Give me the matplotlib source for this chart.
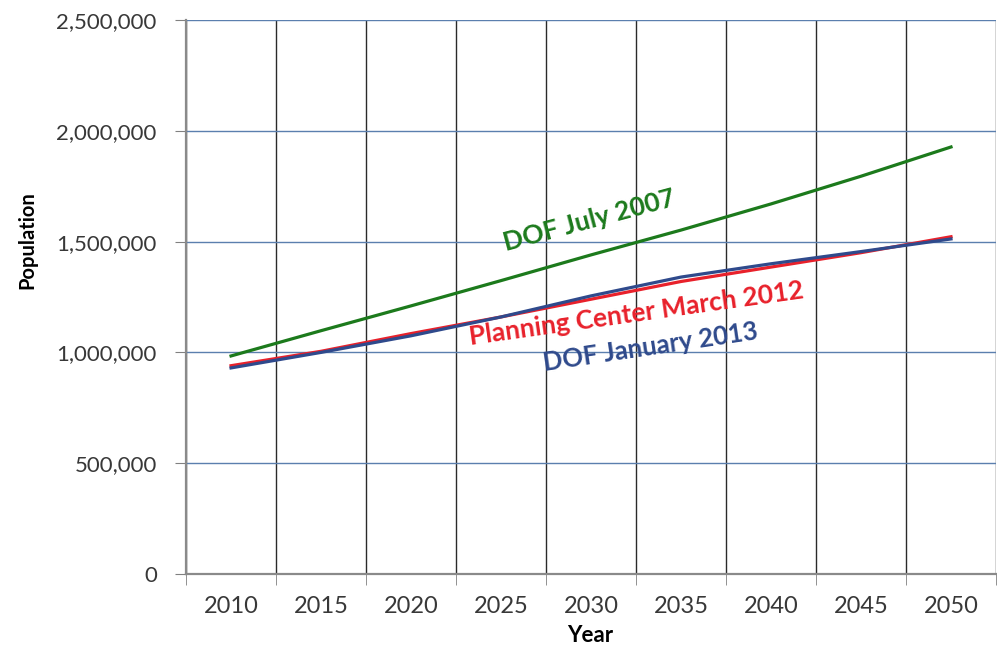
import matplotlib.pyplot as plt
from matplotlib.ticker import FuncFormatter, FixedLocator

years = ['2010', '2015', '2020', '2025', '2030', '2035', '2040', '2045', '2050']
# population projections
dof_2007 = [984000, 1098000, 1210000, 1324000, 1440000, 1552000, 1670000, 1795000, 1927000]
planning_2012 = [940000, 1005000, 1085000, 1160000, 1240000, 1320000, 1385000, 1450000, 1522000]
dof_2013 = [930000, 1000000, 1075000, 1160000, 1255000, 1340000, 1400000, 1455000, 1512000]

green = '#1c7a1c'
red = '#e8212b'
blue = '#2f4a8c'

plt.rcParams['font.family'] = ['Lato', 'DejaVu Sans']

fig = plt.figure(figsize=(9.97, 6.47), dpi=100)
ax = fig.add_axes([0.1866, 0.1128, 0.8124, 0.8563])

x = list(range(len(years)))
ax.plot(x, planning_2012, color=red, lw=2.3, zorder=3)
ax.plot(x, dof_2013, color=blue, lw=2.3, zorder=4)
ax.plot(x, dof_2007, color=green, lw=2.3, zorder=3)

ax.set_xlim(-0.5, 8.5)
ax.set_ylim(0, 2500000)
ax.set_yticks(range(0, 2500001, 500000))
ax.yaxis.set_major_formatter(FuncFormatter(lambda v, p: f'{int(v):,}'))
ax.set_xticks(x)
ax.set_xticklabels(years)
ax.xaxis.set_minor_locator(FixedLocator([i - 0.5 for i in range(10)]))

ax.grid(axis='y', color='#5b7fae', lw=1.0, zorder=1)
ax.grid(axis='x', which='minor', color='#2a2a2a', lw=1.0, zorder=1)
ax.tick_params(axis='x', which='major', length=0, pad=16, labelsize=17, labelcolor='#383838')
ax.tick_params(axis='x', which='minor', length=8, color='#808080', direction='out')
ax.tick_params(axis='y', length=8, color='#808080', pad=13, labelsize=16, labelcolor='#383838')

for side in ['top', 'right']:
    ax.spines[side].set_visible(False)
for side in ['left', 'bottom']:
    ax.spines[side].set_color('#8a8a8a')
    ax.spines[side].set_linewidth(1.6)

fig.text(590 / 997, 1 - 636 / 647, 'Year', fontsize=16, fontweight='bold',
         ha='center', va='center')
fig.text(27 / 997, 1 - 240 / 647, 'Population', fontsize=14.5, fontweight='bold',
         rotation=90, ha='center', va='center')

ax.text(3.98, 1597000, 'DOF July 2007', color=green, fontsize=19, fontweight='bold',
        rotation=15, rotation_mode='anchor', ha='center', va='center')
ax.text(4.5, 1173000, 'Planning Center March 2012', color=red, fontsize=19, fontweight='bold',
        rotation=8, rotation_mode='anchor', ha='center', va='center')
ax.text(4.66, 1024000, 'DOF January 2013', color=blue, fontsize=18.5, fontweight='bold',
        rotation=8.5, rotation_mode='anchor', ha='center', va='center')

fig.savefig('out.png', dpi=100)
